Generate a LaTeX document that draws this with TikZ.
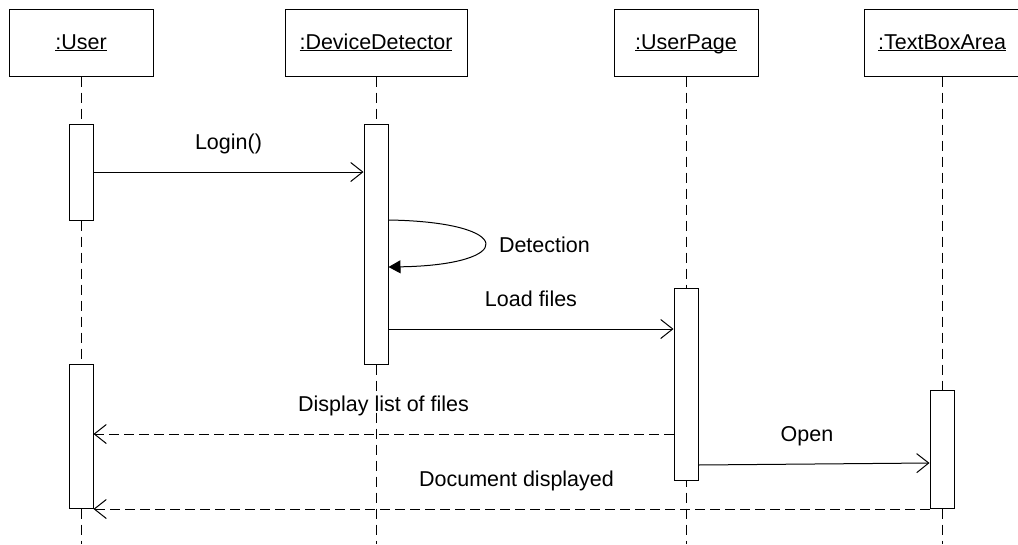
\documentclass[tikz,border=0pt]{standalone}
\usepackage{fontspec}
\setmainfont{Liberation Sans}
\usetikzlibrary{arrows.meta}
\newcommand{\objname}[1]{\underline{\smash{#1}}}

\begin{document}
\begin{tikzpicture}[x=1pt,y=-1pt,line width=1pt,
  font=\fontsize{21.5}{25}\selectfont,
  obj/.style={draw,minimum height=67pt,inner sep=0pt,text height=15pt,text depth=2pt},
  act/.style={draw,fill=white,minimum width=24pt,inner sep=0pt,anchor=north},
  life/.style={dash pattern=on 10pt off 6pt},
  ret/.style={dash pattern=on 10pt off 5pt},
  lbl/.style={midway,above=18pt,inner sep=0pt,text height=15pt,text depth=4pt},
  >={Straight Barb[length=12pt,width=19pt]}]
\useasboundingbox (0,0) rectangle (1018,544);
\node[obj,minimum width=144pt] (U) at (81,42.5) {\objname{:User}};
\node[obj,minimum width=182pt] (D) at (376,42.5) {\objname{:DeviceDetector}};
\node[obj,minimum width=144pt] (P) at (686,42.5) {\objname{:UserPage}};
\node[obj,minimum width=156pt] (T) at (942,42.5) {\objname{:TextBoxArea}};
\foreach \o in {U,D,P,T}
  \draw[life] (\o.south) -- (\o.south |- 0,544);
\node[act,minimum height=96pt] (U1) at (81,124) {};
\node[act,minimum height=240pt] (D1) at (376,124) {};
\node[act,minimum height=192pt] (P1) at (686,288) {};
\node[act,minimum height=118pt] (T1) at (942,390) {};
\node[act,minimum height=144pt] (U2) at (81,364) {};
\path[->]
(U1.east |- 0,172) edge node[lbl]{Login()} (D1.west |- 0,172)
(D1.east |- 0,329) edge node[lbl]{Load files} (P1.west |- 0,329)
(P1.east |- 0,465) edge node[lbl,xshift=-7pt]{Open} (T1.west |- 0,463);
\path[->,ret]
(P1.west |- 0,434) edge node[lbl]{Display list of files} (U2.east |- 0,434)
(T1.south west) edge node[lbl,xshift=5pt]{Document displayed} (U2.south east);
\draw[-{Triangle[length=12pt,width=13pt]}] (D1.east |- 0,220)
  .. controls +(128,2) and +(128,-2) ..
  node[pos=0.5,anchor=west,xshift=14pt,yshift=-1pt,inner sep=0pt]{Detection}
  (D1.east |- 0,267);
\end{tikzpicture}
\end{document}
